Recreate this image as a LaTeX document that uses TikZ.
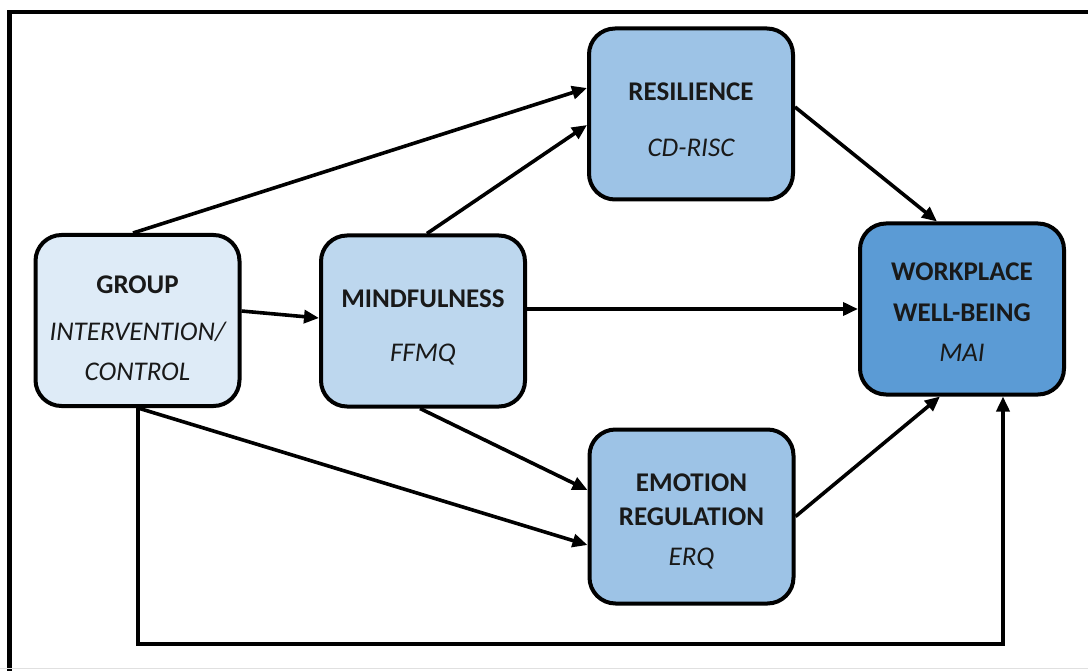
\documentclass[tikz,border=0pt]{standalone}
\usepackage{fontspec}
\setmainfont{Carlito}
\usetikzlibrary{arrows.meta,calc}
\definecolor{grpblue}{HTML}{DEEBF7}
\definecolor{mindblue}{HTML}{BDD7EE}
\definecolor{midblue}{HTML}{9DC3E6}
\definecolor{wellblue}{HTML}{5B9BD5}
\tikzset{
	box/.style={draw=black, line width=4pt, rounded corners=26pt, minimum width=204pt, minimum height=171pt, inner sep=0pt},
	conn/.style={line width=3.6pt, -{Triangle[length=15pt,width=13pt]}},
	head/.style={font=\fontsize{27}{30}\selectfont\bfseries, text=black!90, text height=17pt, text depth=0pt, inner sep=0pt},
	sub/.style={font=\fontsize{27}{30}\selectfont\itshape, text=black!90, text height=17pt, text depth=0pt, inner sep=0pt},
}

\begin{document}
\begin{tikzpicture}[x=1pt, y=-1pt]
		%%%%% START %%%%%
		\useasboundingbox (0,0) rectangle (1088,671);
		\clip (0,0) rectangle (1088,671);
		\fill[white] (0,0) rectangle (1088,671);
		\draw[line width=4.5pt] (9.5,700) |- (1100,12);
		\draw[black!12, line width=1pt] (0,668) -- (1088,668);
		
		\node[box, fill=grpblue] (grp) at (137.5,320.5) {};
		\node[head] (grptitle) at (137.5,285) {GROUP};
		\node[sub] (grpsub) at (137.5,332) {INTERVENTION/};
		\node[sub] (grpsubb) at (137.5,372) {CONTROL};
		
		\node[box, fill=mindblue] (mind) at (423,321) {};
		\node[head] (mindtitle) at (423,299) {MINDFULNESS};
		\node[sub] (mindsub) at (423,353) {FFMQ};
		
		\node[box, fill=midblue] (res) at (691,114) {};
		\node[head] (restitle) at (691,92) {RESILIENCE};
		\node[sub] (ressub) at (691,148) {CD-RISC};
		
		\node[box, fill=midblue, minimum height=174pt] (emo) at (691.5,516.5) {};
		\node[head] (emotitle) at (691.5,483) {EMOTION};
		\node[head] (emotitleb) at (691.5,517) {REGULATION};
		\node[sub] (emosub) at (691.5,557) {ERQ};
		
		\node[box, fill=wellblue] (work) at (962,309) {};
		\node[head] (worktitle) at (962,272) {WORKPLACE};
		\node[head] (worktitleb) at (962,313) {WELL-BEING};
		\node[sub] (worksub) at (962,353) {MAI};
		
		\draw[conn] ([xshift=-4.5pt]grp.north) -- ([yshift=26pt]res.west);
		\draw[conn] ([yshift=9.5pt]grp.east) -- ([yshift=3pt]mind.west);
		\draw[conn] ([xshift=4pt]mind.north) -- ([yshift=-11pt]res.west);
		\draw[conn] ([yshift=12pt]mind.east) -- ([yshift=12pt]mind.east -| work.west);
		\draw[conn] ([xshift=-3pt]mind.south) -- ([yshift=26.5pt]emo.west);
		\draw[conn] ([xshift=0.5pt]grp.south) -- ([yshift=-28.5pt]emo.west);
		\draw[conn] ([yshift=7pt]res.east) -- ([xshift=-25pt]work.north);
		\draw[conn] (emo.east) -- ([xshift=-22pt]work.south);
		
		\coordinate (loop) at (1003,644);
		\draw[conn] ([xshift=0.5pt]grp.south) |- (loop) -- ([xshift=41pt]work.south);
		%%%%% END %%%%%
	\end{tikzpicture}
\end{document}
